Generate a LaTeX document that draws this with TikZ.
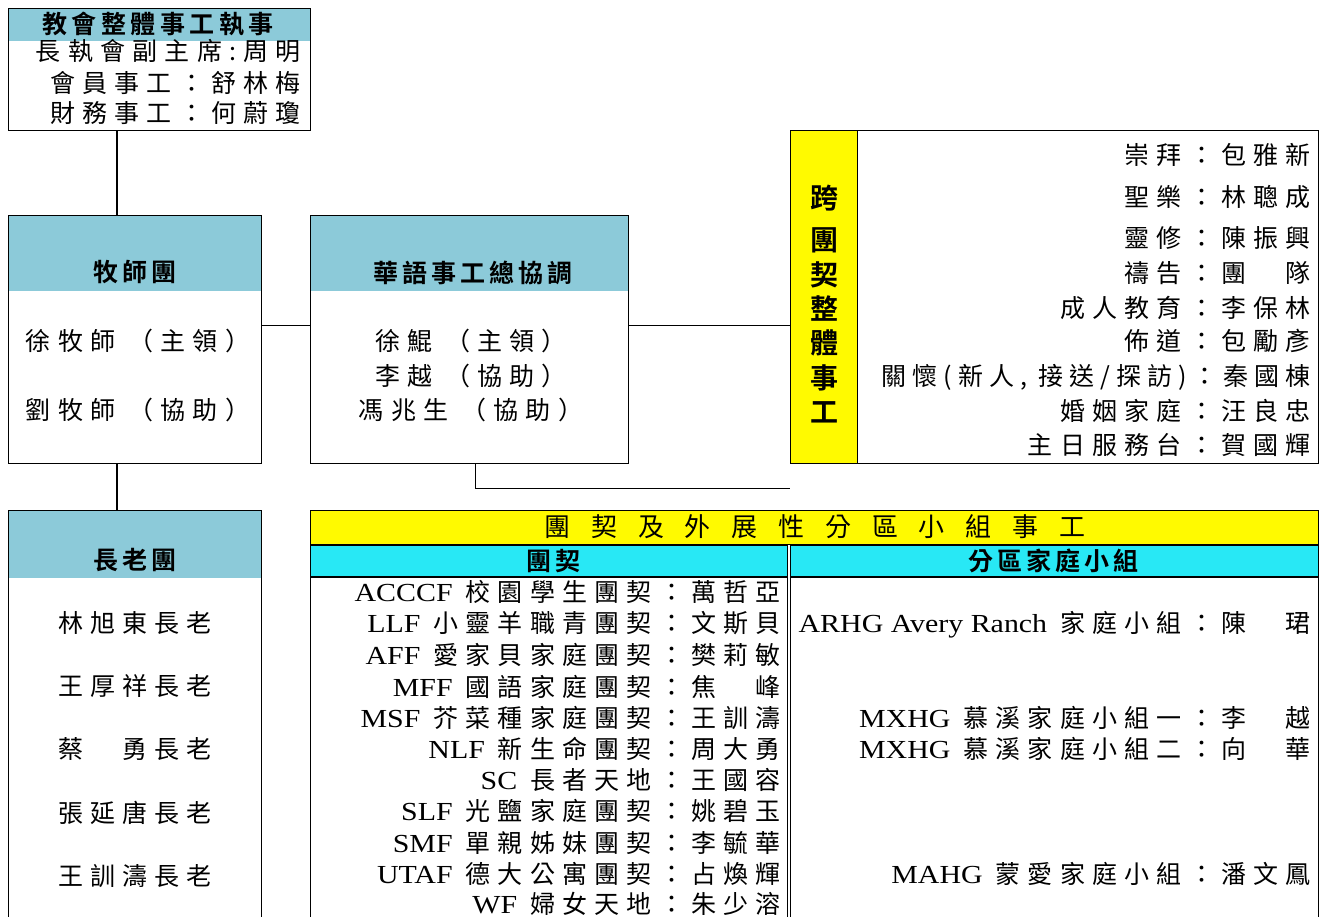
\documentclass[tikz,border=0pt]{standalone}
\usepackage{fontspec}
\setmainfont{Liberation Serif}
\newfontfamily\cjk[BoldFont={Noto Sans CJK TC Bold}]{Noto Sans CJK TC}
\newfontfamily\latin[FakeStretch=1.15]{Liberation Serif}
\newcommand\en[1]{{\latin\fontsize{26}{28}\selectfont #1}}
\definecolor{headblue}{RGB}{140,202,217}
\definecolor{rowcyan}{RGB}{40,232,245}
\definecolor{bandyellow}{RGB}{255,250,0}

\tikzset{
  box/.style={draw, line width=1.3pt, anchor=north west, inner sep=0pt},
  band/.style 2 args={path picture={\fill[#1] (path picture bounding box.north west) rectangle ([yshift=-#2]path picture bounding box.north east);}},
  head/.style={font=\cjk\bfseries\fontsize{25}{28}\selectfont\addfontfeatures{LetterSpace=16}, inner sep=0pt},
  txt/.style={font=\cjk\fontsize{25}{28}\selectfont\addfontfeatures{LetterSpace=29}, inner sep=0pt, text height=20pt, text depth=5pt},
  vhead/.style={font=\cjk\bfseries\fontsize{28}{30}\selectfont, inner sep=0pt},
}

\begin{document}
\begin{tikzpicture}[x=1pt,y=-1pt]
\useasboundingbox (0,0) rectangle (1323,917);

% church-wide deacons
\node[box, band={headblue}{32pt}, minimum width=302pt, minimum height=122pt] (exec) at (8,8) {};
\node[head, font=\cjk\bfseries\fontsize{25}{27}\selectfont\addfontfeatures{LetterSpace=18}] (execT) at (158,24) {教會整體事工執事};
\node[txt, anchor=east] (exec1) at (301,53) {長執會副主席:周明};
\node[txt, anchor=east] (exec2) at (301,85) {會員事工：舒林梅};
\node[txt, anchor=east] (exec3) at (301,115) {財務事工：何蔚瓊};

% pastors
\node[box, band={headblue}{75pt}, minimum width=253pt, minimum height=248pt] (pastor) at (8,215) {};
\node[head] (pastorT) at (135,272) {牧師團};
\node[txt] (pastor1) at (138,343) {徐牧師 （主領）};
\node[txt] (pastor2) at (138,412) {劉牧師 （協助）};

% mandarin ministry
\node[box, band={headblue}{75pt}, minimum width=318pt, minimum height=248pt] (coord) at (310,215) {};
\node[head] (coordT) at (473,273) {華語事工總協調};
\node[txt] (coord1) at (471,343) {徐鯤 （主領）};
\node[txt] (coord2) at (471,378) {李越 （協助）};
\node[txt] (coord3) at (471,412) {馮兆生 （協助）};

% cross-fellowship ministries
\node[box, minimum width=528pt, minimum height=333pt] (cross) at (790,130) {};
\foreach \t/\y [count=\i] in {崇拜：包雅新/157, 聖樂：林聰成/199, 靈修：陳振興/240,
    禱告：團　隊/275, 成人教育：李保林/310, 佈道：包勵彥/343,
    {{\addfontfeatures{LetterSpace=24}關懷(新人, 接送/探訪)：秦國棟}}/378, 婚姻家庭：汪良忠/413, 主日服務台：賀國輝/447}
  \node[txt, anchor=east] (duty\i) at (1311,\y) {\t};
\node[box, fill=bandyellow, minimum width=67pt, minimum height=333pt] (crossbar) at (790,130) {};
\foreach \c/\y [count=\i] in {跨/198, 團/240, 契/275, 整/309, 體/343, 事/378, 工/412}
  \node[vhead] (bar\i) at (824,\y) {\c};

% elders
\node[box, band={headblue}{67pt}, minimum width=253pt, minimum height=420pt] (elders) at (8,510) {};
\node[head] (eldersT) at (135,560) {長老團};
\foreach \t/\y [count=\i] in {林旭東長老/625, 王厚祥長老/688, 蔡　勇長老/751, 張延唐長老/815, 王訓濤長老/878}
  \node[txt] (elder\i) at (135,\y) {\t};

% fellowships and home groups
\node[box, path picture={
    \fill[bandyellow] (path picture bounding box.north west) rectangle ([yshift=-35pt]path picture bounding box.north east);
    \fill[rowcyan] ([yshift=-35pt]path picture bounding box.north west) rectangle ([yshift=-67pt]path picture bounding box.north east);},
  minimum width=1008pt, minimum height=420pt] (fellow) at (310,510) {};
\draw[line width=1.3pt] ([yshift=-35pt]fellow.north west) -- ([yshift=-35pt]fellow.north east);
\draw[line width=1.3pt] ([yshift=-67pt]fellow.north west) -- ([yshift=-67pt]fellow.north east);
\coordinate (split) at (789,545);
\draw[line width=0.9pt, double, double distance=2.2pt] (split) -- (split |- fellow.south);
\node[font=\cjk\fontsize{26}{28}\selectfont\addfontfeatures{LetterSpace=80}, inner sep=0pt] (fellowT) at (815,527)
  {團契及外展性分區小組事工};
\node[head] (groupA) at (553,561) {團契};
\node[head] (groupB) at (1053,561) {分區家庭小組};
\foreach \t/\y [count=\i] in {\en{ACCCF} 校園學生團契：萬哲亞/594, \en{LLF} 小靈羊職青團契：文斯貝/625,
    \en{AFF} 愛家貝家庭團契：樊莉敏/657, \en{MFF} 國語家庭團契：焦　峰/689,
    \en{MSF} 芥菜種家庭團契：王訓濤/720, \en{NLF} 新生命團契：周大勇/751,
    \en{SC} 長者天地：王國容/782, \en{SLF} 光鹽家庭團契：姚碧玉/813,
    \en{SMF} 單親姊妹團契：李毓華/845, \en{UTAF} 德大公寓團契：占煥輝/876,
    \en{WF} 婦女天地：朱少溶/906}
  \node[txt, anchor=east] (club\i) at (781,\y) {\t};
\foreach \t/\y [count=\i] in {\en{ARHG Avery Ranch} 家庭小組：陳　珺/625, \en{MXHG} 慕溪家庭小組一：李　越/720,
    \en{MXHG} 慕溪家庭小組二：向　華/751, \en{MAHG} 蒙愛家庭小組：潘文鳳/876}
  \node[txt, anchor=east] (home\i) at (1311,\y) {\t};

% connectors
\draw[line width=1.3pt] ([xshift=109pt]exec.south west) -- ([xshift=109pt]pastor.north west);
\draw[line width=1.3pt] ([xshift=109pt]pastor.south west) -- ([xshift=109pt]elders.north west);
\draw[line width=1.3pt] ([yshift=14pt]pastor.east) -- ([yshift=14pt]coord.west);
\draw[line width=1.3pt] ([yshift=14pt]coord.east) -- ([yshift=14pt]coord.east -| cross.west);
\draw[line width=1.3pt] ([xshift=6pt]coord.south) |- ([yshift=-24pt]coord.south -| cross.west);
\end{tikzpicture}
\end{document}
